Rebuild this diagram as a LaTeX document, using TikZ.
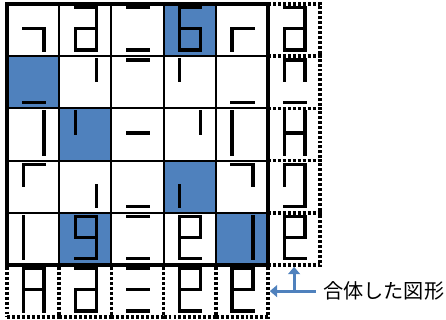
\documentclass[tikz,border=0pt]{standalone}
\usepackage{fontspec}
\newfontfamily\jpfont{Noto Sans CJK JP}
\usetikzlibrary{arrows.meta}
\definecolor{cellblue}{HTML}{4F81BD}

% segment ends inside one unit cell (y runs downwards)
\def\lcda{(0.31,-0.07) -- (0.71,-0.07)}
\def\lcdb{(0.71,-0.07) -- (0.71,-0.47)}
\def\lcdc{(0.71,-0.47) -- (0.71,-0.88)}
\def\lcdd{(0.31,-0.88) -- (0.71,-0.88)}
\def\lcde{(0.31,-0.47) -- (0.31,-0.88)}
\def\lcdf{(0.31,-0.07) -- (0.31,-0.47)}
\def\lcdg{(0.31,-0.47) -- (0.71,-0.47)}
% \glyph{column}{row}{segments}
\newcommand{\glyph}[3]{%
  \foreach \s in {#3} {\draw[seg, shift={(#1,-#2)}] \csname lcd\s\endcsname;}}

\begin{document}
\begin{tikzpicture}[
      seg/.style      = {line width=1.8pt, line cap=rect},
      dotbox/.style   = {rectangle, draw, minimum size=1cm, inner sep=0pt,
                         line width=2pt, dash pattern=on 1.6pt off 1.1pt},
      gridline/.style = {line width=1.1pt},
      frame/.style    = {line width=1.9pt},
      bluearr/.style  = {-{Triangle[length=4pt, width=6.5pt]},
                         line width=1.6pt, draw=cellblue},
    ]
    \useasboundingbox (-0.134,0.077) rectangle (8.41,-6.053);

    % Combined figures (per row on the right, per column below)
    \foreach \r in {0,...,4} \node[dotbox] (r\r) at (5.5,-\r-0.5) {};
    \foreach \c in {0,...,4} \node[dotbox] (b\c) at (\c+0.5,-5.5) {};

    % Blue cells
    \foreach \r/\c in {0/3, 1/0, 2/1, 3/3, 4/1, 4/4}
      \fill[cellblue] (\c,-\r) rectangle ++(1,-1);

    % Grid
    \draw[gridline] (0,-5) grid (5,0);
    \draw[frame] (0,0) rectangle (5,-5);

    % Row 0
    \glyph{0}{0}{c,g} \glyph{1}{0}{a,b,c,d,e,g} \glyph{2}{0}{a,d}
    \glyph{3}{0}{a,c,d,e,f,g} \glyph{4}{0}{e,g}
    % Row 1
    \glyph{0}{1}{d} \glyph{1}{1}{b} \glyph{2}{1}{a} \glyph{3}{1}{f} \glyph{4}{1}{d}
    % Row 2
    \glyph{0}{2}{b,c} \glyph{1}{2}{f} \glyph{2}{2}{g} \glyph{3}{2}{b} \glyph{4}{2}{e,f}
    % Row 3
    \glyph{0}{3}{a,f} \glyph{1}{3}{c} \glyph{2}{3}{d} \glyph{3}{3}{e} \glyph{4}{3}{a,b}
    % Row 4
    \glyph{0}{4}{e,f} \glyph{1}{4}{a,b,c,d,f,g} \glyph{2}{4}{a,d}
    \glyph{3}{4}{a,b,d,e,f,g} \glyph{4}{4}{b,c}

    % Right column
    \glyph{5}{0}{a,b,c,d,e,g} \glyph{5}{1}{a,b,d,f} \glyph{5}{2}{b,c,e,f,g}
    \glyph{5}{3}{a,b,c,d,f} \glyph{5}{4}{a,b,d,e,f,g}
    % Bottom row
    \glyph{0}{5}{a,b,c,e,f,g} \glyph{1}{5}{a,b,c,d,e,g} \glyph{2}{5}{a,d,g}
    \glyph{3}{5}{a,b,d,e,f,g} \glyph{4}{5}{a,b,d,e,f,g}

    % Label and arrows
    \node[anchor=west, inner xsep=4pt, inner ysep=0pt,
          font=\jpfont\fontsize{11}{13}\selectfont] (lbl) at (5.91,-5.5) {合体した図形};
    \draw[bluearr] (lbl.west) -- (b4.east);
    \draw[bluearr] (lbl.west -| r4.south) -- (r4.south);
  \end{tikzpicture}
\end{document}
